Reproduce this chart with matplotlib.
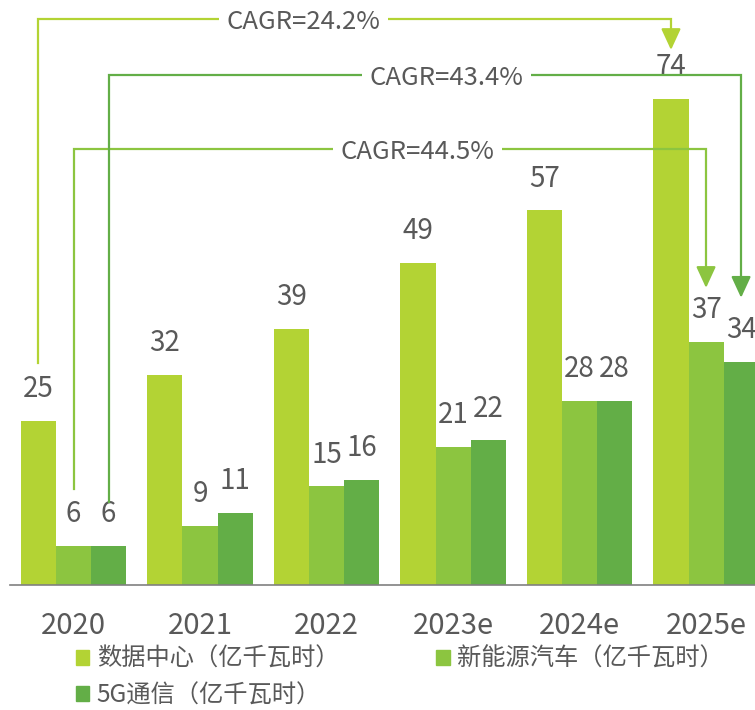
import numpy as np
import matplotlib
matplotlib.use("Agg")
import matplotlib.pyplot as plt
from matplotlib.patches import Rectangle

plt.rcParams['font.family'] = ['Noto Sans CJK SC', 'DejaVu Sans']

# 数据
years = ['2020', '2021', '2022', '2023e', '2024e', '2025e']
data_center = [25, 32, 39, 49, 57, 74]
nev = [6, 9, 15, 21, 28, 37]
g5 = [6, 11, 16, 22, 28, 34]
series_names = ['数据中心（亿千瓦时）', '新能源汽车（亿千瓦时）', '5G通信（亿千瓦时）']
cagr_labels = ['CAGR=24.2%', 'CAGR=44.5%', 'CAGR=43.4%']

colors = ['#b3d334', '#8cc540', '#63ae47']
text_c = '#595959'

fig = plt.figure(figsize=(7.55, 7.1), dpi=100)
ax = fig.add_axes([10 / 755, 125 / 710, 745 / 755, 585 / 710])

x = np.arange(len(years))
w = 0.277
all_series = [data_center, nev, g5]
for i, vals in enumerate(all_series):
    xs = x + (i - 1) * w
    ax.bar(xs, vals, width=w, color=colors[i], edgecolor='none')
    for xi, v in zip(xs, vals):
        ax.annotate(str(v), (xi, v), xytext=(0, 17), textcoords='offset points',
                    ha='center', va='baseline', fontsize=20, color=text_c)

ax.set_xlim(-0.502, 5.387)
ax.set_ylim(0, 89.0)
for s in ['top', 'right', 'left']:
    ax.spines[s].set_visible(False)
ax.spines['bottom'].set_color('#808080')
ax.spines['bottom'].set_linewidth(1.2)
ax.set_yticks([])
ax.set_xticks(x)
ax.set_xticklabels(years, fontsize=21, color=text_c)
ax.tick_params(axis='x', length=0, pad=19)

# CAGR 箭头线: 起点高度, 顶部高度, 箭头尖高度, 文字中心x
lines_cfg = [
    (33.8, 86.1, 81.4, 1.82),
    (14.6, 66.4, 45.2, 2.72),
    (12.6, 77.6, 43.7, 2.95),
]
for i, (y0, ytop, ytip, tx) in enumerate(lines_cfg):
    off = (i - 1) * w
    xa = x[0] + off
    xb = x[-1] + off
    ax.plot([xa, xa, xb, xb], [y0, ytop, ytop, ytip + 2.2], color=colors[i], lw=1.6,
            solid_joinstyle='miter', clip_on=False, zorder=3)
    ax.annotate('', xy=(xb, ytip), xytext=(xb, ytip + 2.6),
                arrowprops=dict(arrowstyle='-|>,head_length=1.3,head_width=0.6',
                                mutation_scale=10, color=colors[i], lw=1.6,
                                shrinkA=0, shrinkB=0),
                annotation_clip=False, zorder=3)
    ax.text(tx, ytop - 0.5, cagr_labels[i], ha='center', va='center', fontsize=18.5,
            color=text_c, zorder=4,
            bbox=dict(boxstyle='square,pad=0.3', fc='white', ec='none'))

# 图例顺序: 第一行 数据中心 / 新能源汽车, 第二行 5G通信
order = [0, 2, 1]
handles = [Rectangle((0, 0), 1, 1, color=colors[k]) for k in order]
fig.legend(handles, [series_names[k] for k in order], loc='upper left',
           bbox_to_anchor=(76 / 755, 1 - 646 / 710),
           ncol=2, frameon=False, fontsize=17.5, labelcolor=text_c,
           handlelength=0.55, handleheight=0.55, handletextpad=0.3,
           columnspacing=4.0, labelspacing=0.42, borderpad=0, borderaxespad=0)

fig.savefig('out.png', dpi=100)
